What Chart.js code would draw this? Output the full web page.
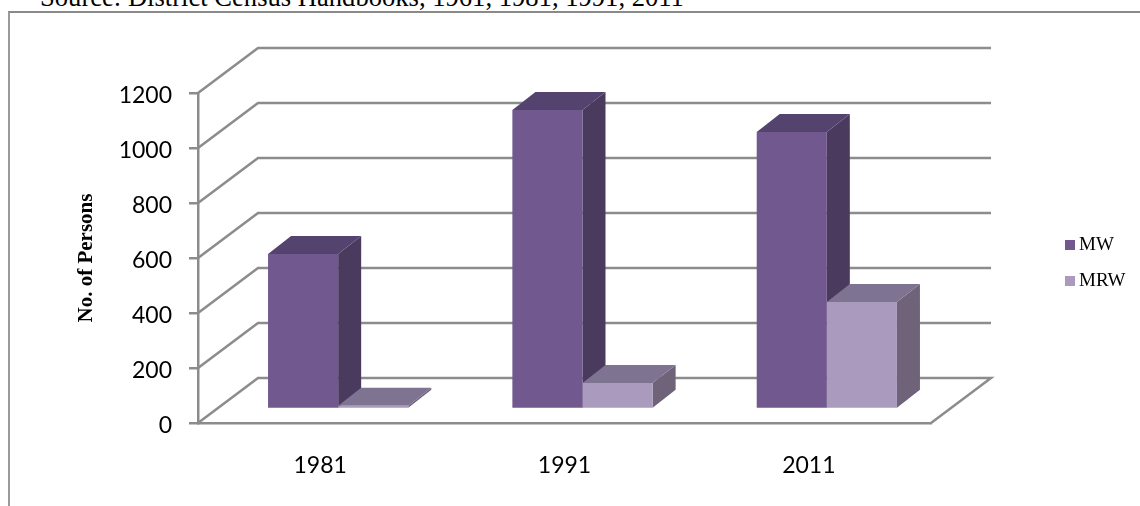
<!DOCTYPE html>
<html>
<head>
<meta charset="utf-8">
<title>No. of Persons</title>
<script src="https://cdn.jsdelivr.net/npm/chart.js@4"></script>
<style>
    html, body { margin: 0; padding: 0; background: #fff; overflow: hidden; }
    .page { position: relative; width: 1140px; height: 506px; overflow: hidden; }
    .source {
        position: absolute; left: 40px; top: -14px; white-space: nowrap;
        font: 26.6px "Liberation Serif", serif; line-height: 22px; color: #000;
    }
    .frame {
        position: absolute; left: 8px; top: 11px; right: 0; bottom: 0;
        border-top: 2px solid #8a8a8a; border-left: 2px solid #9a9a9a;
    }
    canvas { position: absolute; left: 0; top: 0; }
</style>
</head>
<body>
<div class="page">
    <div class="source">Source: District Census Handbooks, 1961, 1981, 1991, 2011</div>
    <div class="frame"></div>
    <canvas id="chart" width="1140" height="506"></canvas>
</div>
<script>
const categories = ['1981', '1991', '2011'];
const mwValues = [564, 1087, 1007];
const mrwValues = [12, 95, 389];

const gridColor = '#8c8c8c';
const wallDepth = { x: 60, y: -45 };   // floor and walls of the fake 3d box
const barShift = { x: 18, y: -14 };    // bars stand part way back on the floor
const barDepth = { x: 23, y: -18 };

const sideColors = ['#4a3a5e', '#6e6379'];
const topColors = ['#55436f', '#7e7390'];

function poly(ctx, points, color) {
    ctx.fillStyle = color;
    ctx.beginPath();
    points.forEach((p, i) => i ? ctx.lineTo(p[0], p[1]) : ctx.moveTo(p[0], p[1]));
    ctx.closePath();
    ctx.fill();
}

const box3d = {
    id: 'box3d',
    beforeDraw(chart) {
        // Lato sits high on the tick, nudge the y labels down
        chart.scales.y.getLabelItems().forEach(item => { item.options.translation[1] += 3; });
    },
    beforeDatasetsDraw(chart) {
        const ctx = chart.ctx;
        const xs = chart.scales.x, ys = chart.scales.y;

        // walls
        ctx.save();
        ctx.strokeStyle = gridColor;
        ctx.lineWidth = 2.5;
        ys.ticks.forEach(t => {
            const y = ys.getPixelForValue(t.value);
            ctx.beginPath();
            ctx.moveTo(xs.left, y);
            ctx.lineTo(xs.left + wallDepth.x, y + wallDepth.y);
            ctx.lineTo(xs.right + wallDepth.x, y + wallDepth.y);
            if (t.value === 0) ctx.lineTo(xs.right, y);
            ctx.stroke();
        });
        ctx.restore();

        // side and top of every bar, front faces are drawn after by the chart
        ctx.save();
        ctx.translate(barShift.x, barShift.y);
        chart.data.datasets.forEach((ds, i) => {
            chart.getDatasetMeta(i).data.forEach(bar => {
                const l = bar.x - bar.width / 2, r = bar.x + bar.width / 2;
                const dx = barDepth.x, dy = barDepth.y;
                poly(ctx, [[r, bar.y], [r + dx, bar.y + dy], [r + dx, bar.base + dy], [r, bar.base]], sideColors[i]);
                poly(ctx, [[l, bar.y], [l + dx, bar.y + dy], [r + dx, bar.y + dy], [r, bar.y]], topColors[i]);
            });
        });
        ctx.restore();
    },
    beforeDatasetDraw(chart) {
        chart.ctx.save();
        chart.ctx.translate(barShift.x, barShift.y);
    },
    afterDatasetDraw(chart) {
        chart.ctx.restore();
    },
    afterDraw(chart) {
        // legend sits well right of the plot, so it is placed by hand
        const ctx = chart.ctx;
        ctx.save();
        ctx.font = '19px "Liberation Serif"';
        ctx.textBaseline = 'middle';
        chart.data.datasets.forEach((ds, i) => {
            const y = 245 + i * 36;
            ctx.fillStyle = ds.backgroundColor;
            ctx.fillRect(1065, y - 5, 10, 10);
            ctx.fillStyle = '#000';
            ctx.fillText(ds.label, 1079, y);
        });
        ctx.restore();
    }
};

new Chart(document.getElementById('chart').getContext('2d'), {
    type: 'bar',
    data: {
        labels: categories,
        datasets: [
            { label: 'MW', data: mwValues, backgroundColor: '#71588f', clip: false },
            { label: 'MRW', data: mrwValues, backgroundColor: '#aa9abe', clip: false }
        ]
    },
    plugins: [box3d],
    options: {
        responsive: false,
        animation: false,
        layout: { padding: { left: 74, top: 93, right: 209, bottom: 23 } },
        datasets: { bar: { categoryPercentage: 0.574, barPercentage: 1 } },
        plugins: {
            tooltip: { enabled: false },
            legend: { display: false }
        },
        scales: {
            x: {
                afterFit(scale) { scale.height = 60; },
                grid: { display: false },
                border: { color: gridColor, width: 2.5 },
                ticks: { color: '#000', padding: 21, font: { family: 'Lato', size: 23 } }
            },
            y: {
                min: 0,
                max: 1200,
                afterFit(scale) { scale.width = 124; },
                grid: { drawOnChartArea: false, tickLength: 9, color: gridColor, lineWidth: 2.5 },
                border: { color: gridColor, width: 2.5 },
                ticks: {
                    stepSize: 200,
                    color: '#000',
                    padding: 17,
                    font: { family: 'Lato', size: 23 },
                    callback: value => String(value)
                },
                title: {
                    display: true,
                    text: 'No. of Persons',
                    color: '#000',
                    padding: 0,
                    font: { family: '"Liberation Serif"', size: 21, weight: 'bold' }
                }
            }
        }
    }
});
</script>
</body>
</html>
